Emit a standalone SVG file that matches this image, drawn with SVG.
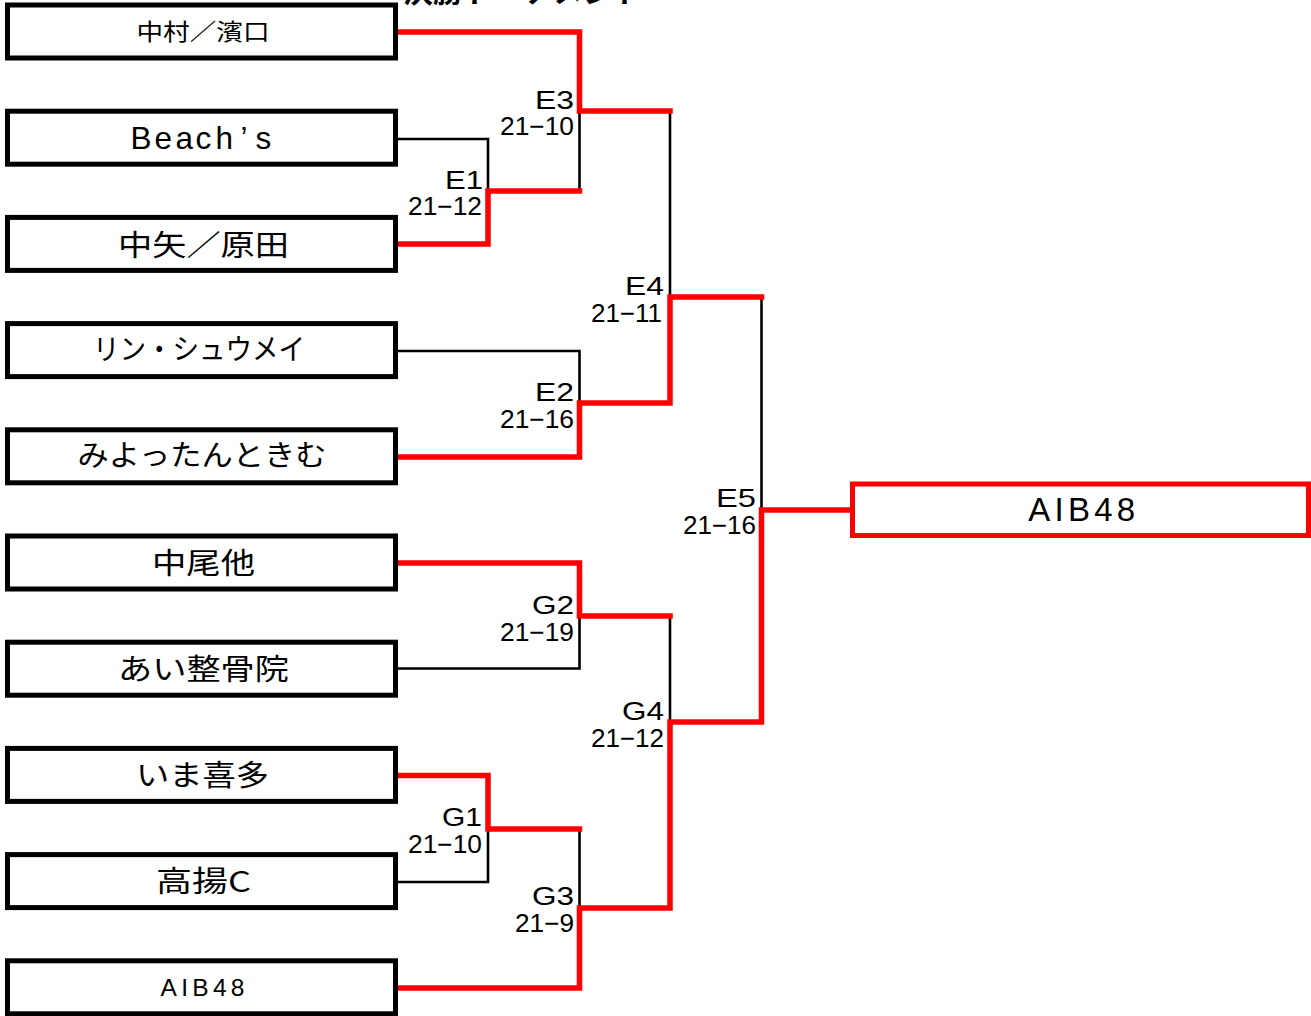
<svg xmlns="http://www.w3.org/2000/svg" width="1311" height="1016" viewBox="0 0 1311 1016">
<style>
.box{fill:#fff;stroke:#000;stroke-width:5}
.final{fill:#fff;stroke:#ff0000;stroke-width:5}
.win{fill:none;stroke:#ff0000;stroke-width:5.5;stroke-linejoin:miter;stroke-linecap:square}
.lose{fill:none;stroke:#000;stroke-width:2.6}
.jp{font-family:"Noto Sans CJK JP","Liberation Sans",sans-serif;fill:#000;text-anchor:middle}
.lat{font-family:"Liberation Sans","Noto Sans CJK JP",sans-serif;fill:#000}
.lbl{font-family:"Liberation Sans",sans-serif;font-size:25.5px;fill:#000;text-anchor:end}
</style>
<rect width="1311" height="1016" fill="#fff"/>
<text x="403" y="1.5" font-family="Noto Sans CJK JP, sans-serif" font-weight="bold" font-size="30" fill="#000">決勝トーナメント</text>
<g id="connectors">
<path class="lose" d="M398 139 H488 V191"/>
<path class="lose" d="M398 351 H579.5 V403"/>
<path class="lose" d="M398 668.5 H579.5 V616"/>
<path class="lose" d="M398 882 H488 V829"/>
<path class="lose" d="M579.5 191 V111"/>
<path class="lose" d="M670 111 V297"/>
<path class="lose" d="M761.5 297 V510"/>
<path class="lose" d="M670 616 V722"/>
<path class="lose" d="M579.5 829 V908"/>
<path class="win" d="M398 32 H579.5 V111 H670"/>
<path class="win" d="M398 244 H488 V191 H579.5"/>
<path class="win" d="M398 457 H579.5 V403 H670 V297 H761.5"/>
<path class="win" d="M398 563 H579.5 V616 H670"/>
<path class="win" d="M398 775.5 H488 V829 H579.5"/>
<path class="win" d="M398 988 H579.5 V908 H670 V722 H761.5 V510 H852"/>
</g>
<g id="labels">
<text class="lbl" x="574" y="108.5" textLength="39" lengthAdjust="spacingAndGlyphs">E3</text>
<text class="lbl" x="574" y="135" textLength="74" lengthAdjust="spacingAndGlyphs">21−10</text>
<text class="lbl" x="483" y="188.5" textLength="38" lengthAdjust="spacingAndGlyphs">E1</text>
<text class="lbl" x="482" y="215" textLength="74" lengthAdjust="spacingAndGlyphs">21−12</text>
<text class="lbl" x="664" y="294.5" textLength="39" lengthAdjust="spacingAndGlyphs">E4</text>
<text class="lbl" x="662" y="321.5" textLength="71" lengthAdjust="spacingAndGlyphs">21−11</text>
<text class="lbl" x="574" y="401" textLength="39" lengthAdjust="spacingAndGlyphs">E2</text>
<text class="lbl" x="574" y="427.5" textLength="74" lengthAdjust="spacingAndGlyphs">21−16</text>
<text class="lbl" x="756" y="507" textLength="40" lengthAdjust="spacingAndGlyphs">E5</text>
<text class="lbl" x="756" y="534" textLength="73" lengthAdjust="spacingAndGlyphs">21−16</text>
<text class="lbl" x="574" y="613.5" textLength="42" lengthAdjust="spacingAndGlyphs">G2</text>
<text class="lbl" x="574" y="640.5" textLength="74" lengthAdjust="spacingAndGlyphs">21−19</text>
<text class="lbl" x="664" y="720" textLength="42" lengthAdjust="spacingAndGlyphs">G4</text>
<text class="lbl" x="664" y="747" textLength="73" lengthAdjust="spacingAndGlyphs">21−12</text>
<text class="lbl" x="482" y="825.5" textLength="40" lengthAdjust="spacingAndGlyphs">G1</text>
<text class="lbl" x="482" y="852.5" textLength="74" lengthAdjust="spacingAndGlyphs">21−10</text>
<text class="lbl" x="574" y="905" textLength="42" lengthAdjust="spacingAndGlyphs">G3</text>
<text class="lbl" x="574" y="931.5" textLength="59" lengthAdjust="spacingAndGlyphs">21−9</text>
</g>
<g id="team1"><rect class="box" x="7.5" y="5" width="388" height="53"/><text class="jp" x="203" y="40.2" font-size="23" textLength="133" lengthAdjust="spacingAndGlyphs">中村／濱口</text></g>
<g id="team2"><rect class="box" x="7.5" y="111.2" width="388" height="53"/><text class="lat" x="130.5 154.5 175.5 195.5 215.5 240.5 255.5" y="149.3" font-size="31.5">Beach’s</text></g>
<g id="team3"><rect class="box" x="7.5" y="217.4" width="388" height="53"/><text class="jp" x="203.5" y="255.5" font-size="29" textLength="171" lengthAdjust="spacingAndGlyphs">中矢／原田</text></g>
<g id="team4"><rect class="box" x="7.5" y="323.6" width="388" height="53"/><text class="jp" x="199" y="360" font-size="29" textLength="212" lengthAdjust="spacingAndGlyphs">リン・シュウメイ</text></g>
<g id="team5"><rect class="box" x="7.5" y="429.8" width="388" height="53"/><text class="jp" x="202" y="466" font-size="29" textLength="249" lengthAdjust="spacingAndGlyphs">みよったんときむ</text></g>
<g id="team6"><rect class="box" x="7.5" y="536" width="388" height="53"/><text class="jp" x="203.5" y="573.5" font-size="29" textLength="103" lengthAdjust="spacingAndGlyphs">中尾他</text></g>
<g id="team7"><rect class="box" x="7.5" y="642.2" width="388" height="53"/><text class="jp" x="203.5" y="679.7" font-size="29" textLength="171" lengthAdjust="spacingAndGlyphs">あい整骨院</text></g>
<g id="team8"><rect class="box" x="7.5" y="748.4" width="388" height="53"/><text class="jp" x="202.5" y="786" font-size="29" textLength="133" lengthAdjust="spacingAndGlyphs">いま喜多</text></g>
<g id="team9"><rect class="box" x="7.5" y="854.6" width="388" height="53"/><text class="jp" x="203.5" y="892" font-size="29" textLength="95" lengthAdjust="spacingAndGlyphs">高揚C</text></g>
<g id="team10"><rect class="box" x="7.5" y="960.8" width="388" height="53"/><text class="lat" x="202.5" y="996" font-size="24.5" text-anchor="middle" textLength="84">AIB48</text></g>
<g id="winner"><rect class="final" x="852.5" y="484" width="456" height="51.5"/><text class="lat" x="1081.7" y="520.7" font-size="33" text-anchor="middle" textLength="107">AIB48</text></g>
</svg>
